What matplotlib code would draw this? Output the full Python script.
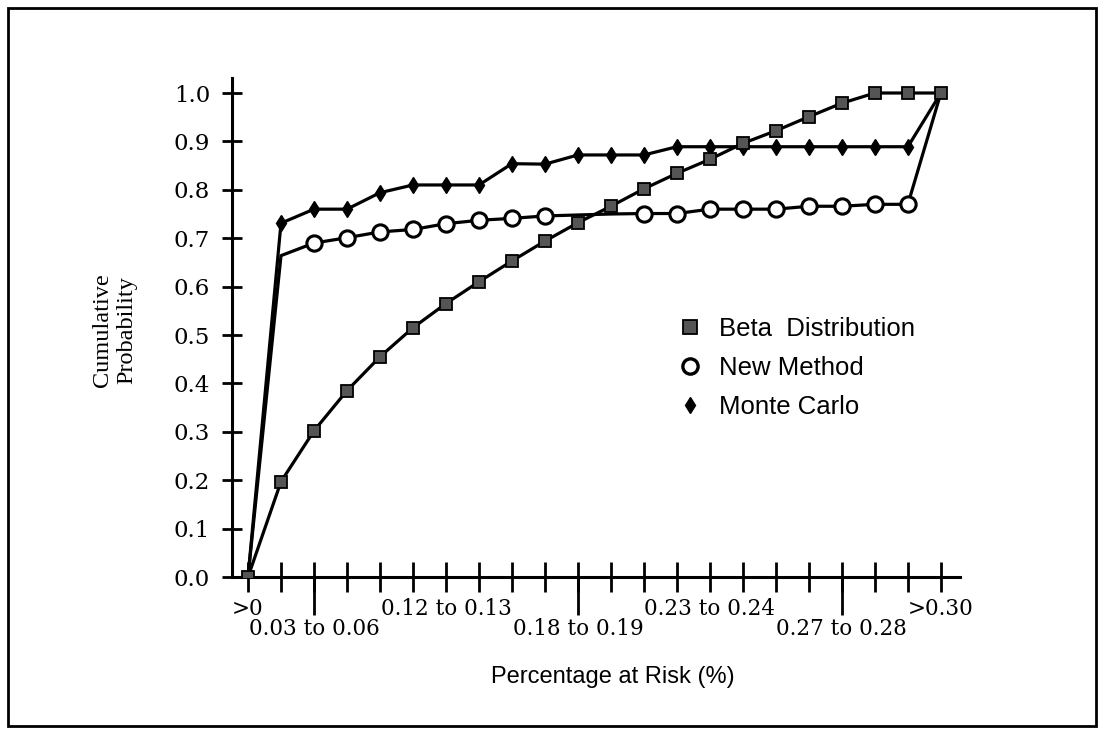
import matplotlib
matplotlib.use("Agg")
import matplotlib.pyplot as plt
from matplotlib.lines import Line2D
from matplotlib.patches import Rectangle

# positions along the risk axis (22 classes)
positions = list(range(22))
beta_dist = [0.0, 0.197, 0.302, 0.385, 0.455, 0.515, 0.565, 0.610, 0.653, 0.694, 0.732,
             0.766, 0.802, 0.834, 0.863, 0.896, 0.922, 0.951, 0.979, 1.0, 1.0, 1.0]
new_method = [0.0, 0.664, 0.690, 0.701, 0.713, 0.718, 0.730, 0.737, 0.741, 0.746, 0.748,
              0.750, 0.751, 0.751, 0.760, 0.760, 0.760, 0.766, 0.766, 0.770, 0.770, 1.0]
monte_carlo = [0.0, 0.731, 0.760, 0.760, 0.794, 0.810, 0.810, 0.810, 0.854, 0.853, 0.872,
               0.872, 0.872, 0.889, 0.889, 0.889, 0.889, 0.889, 0.889, 0.889, 0.889, 1.0]

upper_labels = {0: ">0", 6: "0.12 to 0.13", 14: "0.23 to 0.24", 21: ">0.30"}
lower_labels = {2: "0.03 to 0.06", 10: "0.18 to 0.19", 18: "0.27 to 0.28"}
y_ticks = [0.0, 0.1, 0.2, 0.3, 0.4, 0.5, 0.6, 0.7, 0.8, 0.9, 1.0]

serif = "DejaVu Serif"
sans = "Liberation Sans"


def main():
    fig = plt.figure(figsize=(11.04, 7.34), dpi=100)
    fig.patches.append(Rectangle((8 / 1104, 8 / 734), 1088 / 1104, 718 / 734,
                                 transform=fig.transFigure, fill=False,
                                 edgecolor="black", linewidth=2))

    ax = fig.add_axes([232 / 1104, 1 - 577 / 734, 728 / 1104, 499 / 734])

    ax.plot(positions, new_method, color="black", linewidth=2.3, marker="o",
            markersize=11, markerfacecolor="white", markeredgecolor="black",
            markeredgewidth=2.2, markevery=[2, 3, 4, 5, 6, 7, 8, 9, 12, 13, 14, 15,
                                            16, 17, 18, 19, 20], zorder=3)
    ax.plot(positions, monte_carlo, color="black", linewidth=2.3, marker="d",
            markersize=8, markerfacecolor="black", markeredgecolor="black",
            markevery=list(range(1, 21)), zorder=4)
    ax.plot(positions, beta_dist, color="black", linewidth=2.3, marker="s",
            markersize=8, markerfacecolor="#555555", markeredgecolor="black",
            markeredgewidth=1.3, zorder=5)

    ax.set_xlim(-0.485, 21.58)
    ax.set_ylim(0, 1.031)

    for side in ("top", "right"):
        ax.spines[side].set_visible(False)
    for side in ("left", "bottom"):
        ax.spines[side].set_linewidth(2.2)

    ax.set_yticks(y_ticks)
    ax.set_yticklabels([f"{v:.1f}" for v in y_ticks], fontfamily=serif, fontsize=16.5)
    ax.tick_params(axis="y", direction="inout", length=14.4, width=2, pad=8.5)

    ax.xaxis.remove_overlapping_locs = False
    ax.set_xticks(positions)
    ax.set_xticklabels([upper_labels.get(p, "") for p in positions],
                       fontfamily=serif, fontsize=15.5)
    ax.set_xticks(sorted(lower_labels), minor=True)
    ax.set_xticklabels([lower_labels[p] for p in sorted(lower_labels)], minor=True,
                       fontfamily=serif, fontsize=15.5)
    ax.tick_params(axis="x", which="major", direction="inout", length=21.6, width=2, pad=4)
    ax.tick_params(axis="x", which="minor", direction="out", length=27, width=2, pad=2.5)

    ax.set_ylabel("Cumulative\nProbability", fontfamily="Liberation Serif",
                  fontsize=17.5, va="center", ha="center")
    ax.yaxis.set_label_coords(-0.1607, 0.495)
    ax.set_xlabel("Percentage at Risk (%)", fontfamily=sans, fontsize=17, va="center")
    ax.xaxis.set_label_coords(0.5234, -0.2)

    handles = [
        Line2D([], [], linestyle="none", marker="s", markersize=10.5,
               markerfacecolor="#555555", markeredgecolor="black", markeredgewidth=1.3),
        Line2D([], [], linestyle="none", marker="o", markersize=11,
               markerfacecolor="white", markeredgecolor="black", markeredgewidth=2.4),
        Line2D([], [], linestyle="none", marker="d", markersize=8,
               markerfacecolor="black", markeredgecolor="black"),
    ]
    ax.legend(handles, ["Beta  Distribution", "New Method", "Monte Carlo"],
              loc="center left", bbox_to_anchor=(0.611, 0.419), frameon=False,
              borderaxespad=0, borderpad=0, handlelength=1.0, handletextpad=0.66,
              labelspacing=0.6, prop={"family": sans, "size": 18.5})

    fig.savefig("out.png", dpi=100)


if __name__ == '__main__':
    main()
